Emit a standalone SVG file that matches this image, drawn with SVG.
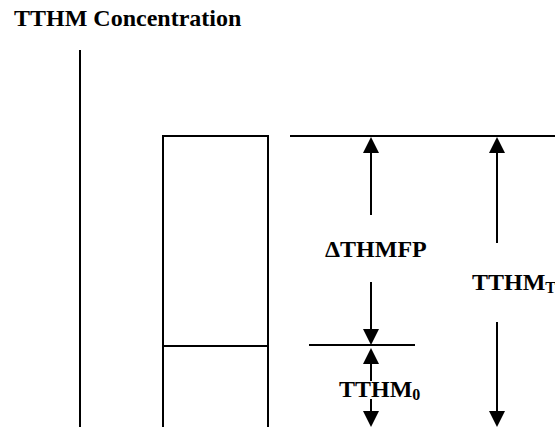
<svg xmlns="http://www.w3.org/2000/svg" width="555" height="427" viewBox="0 0 555 427">
  <style>
    .ln { stroke: #000; stroke-width: 2; fill: none; }
    .ar { stroke: #000; stroke-width: 2; fill: none; marker-end: url(#ah); }
    text { font-family: 'Times New Roman', 'Liberation Serif', serif; font-weight: bold; font-size: 24px; fill: #000; }
    .sub { font-size: 16px; }
  </style>
  <defs>
    <marker id="ah" viewBox="0 0 16 16" refX="0" refY="8" markerWidth="16" markerHeight="16" markerUnits="userSpaceOnUse" orient="auto">
      <path d="M0,0 L16,8 L0,16 Z" fill="#000"/>
    </marker>
  </defs>
  <rect width="555" height="427" fill="#fff"/>
  <g id="title">
    <text x="14" y="26">TTHM Concentration</text>
  </g>
  <g id="axis">
    <line class="ln" x1="80" y1="50" x2="80" y2="427"/>
  </g>
  <g id="bar">
    <rect class="ln" x="163" y="136" width="105" height="300"/>
    <line class="ln" x1="163" y1="346" x2="268" y2="346"/>
  </g>
  <g id="levels">
    <line class="ln" x1="290" y1="136" x2="555" y2="136"/>
    <line class="ln" x1="309" y1="345" x2="415" y2="345"/>
  </g>
  <g id="connectors">
    <line class="ar" x1="371" y1="215" x2="371" y2="153"/>
    <line class="ar" x1="371" y1="282" x2="371" y2="329"/>
    <line class="ar" x1="371" y1="381" x2="371" y2="364"/>
    <line class="ar" x1="371" y1="399" x2="371" y2="411"/>
    <line class="ar" x1="497" y1="243" x2="497" y2="153"/>
    <line class="ar" x1="497" y1="322" x2="497" y2="411"/>
  </g>
  <g id="label-dthmfp">
    <text x="325" y="257">ΔTHMFP</text>
  </g>
  <g id="label-tthm0">
    <text x="339" y="397">TTHM<tspan class="sub" dy="3">0</tspan></text>
  </g>
  <g id="label-tthmt">
    <text x="472" y="290">TTHM<tspan class="sub" dy="3">T</tspan></text>
  </g>
</svg>
